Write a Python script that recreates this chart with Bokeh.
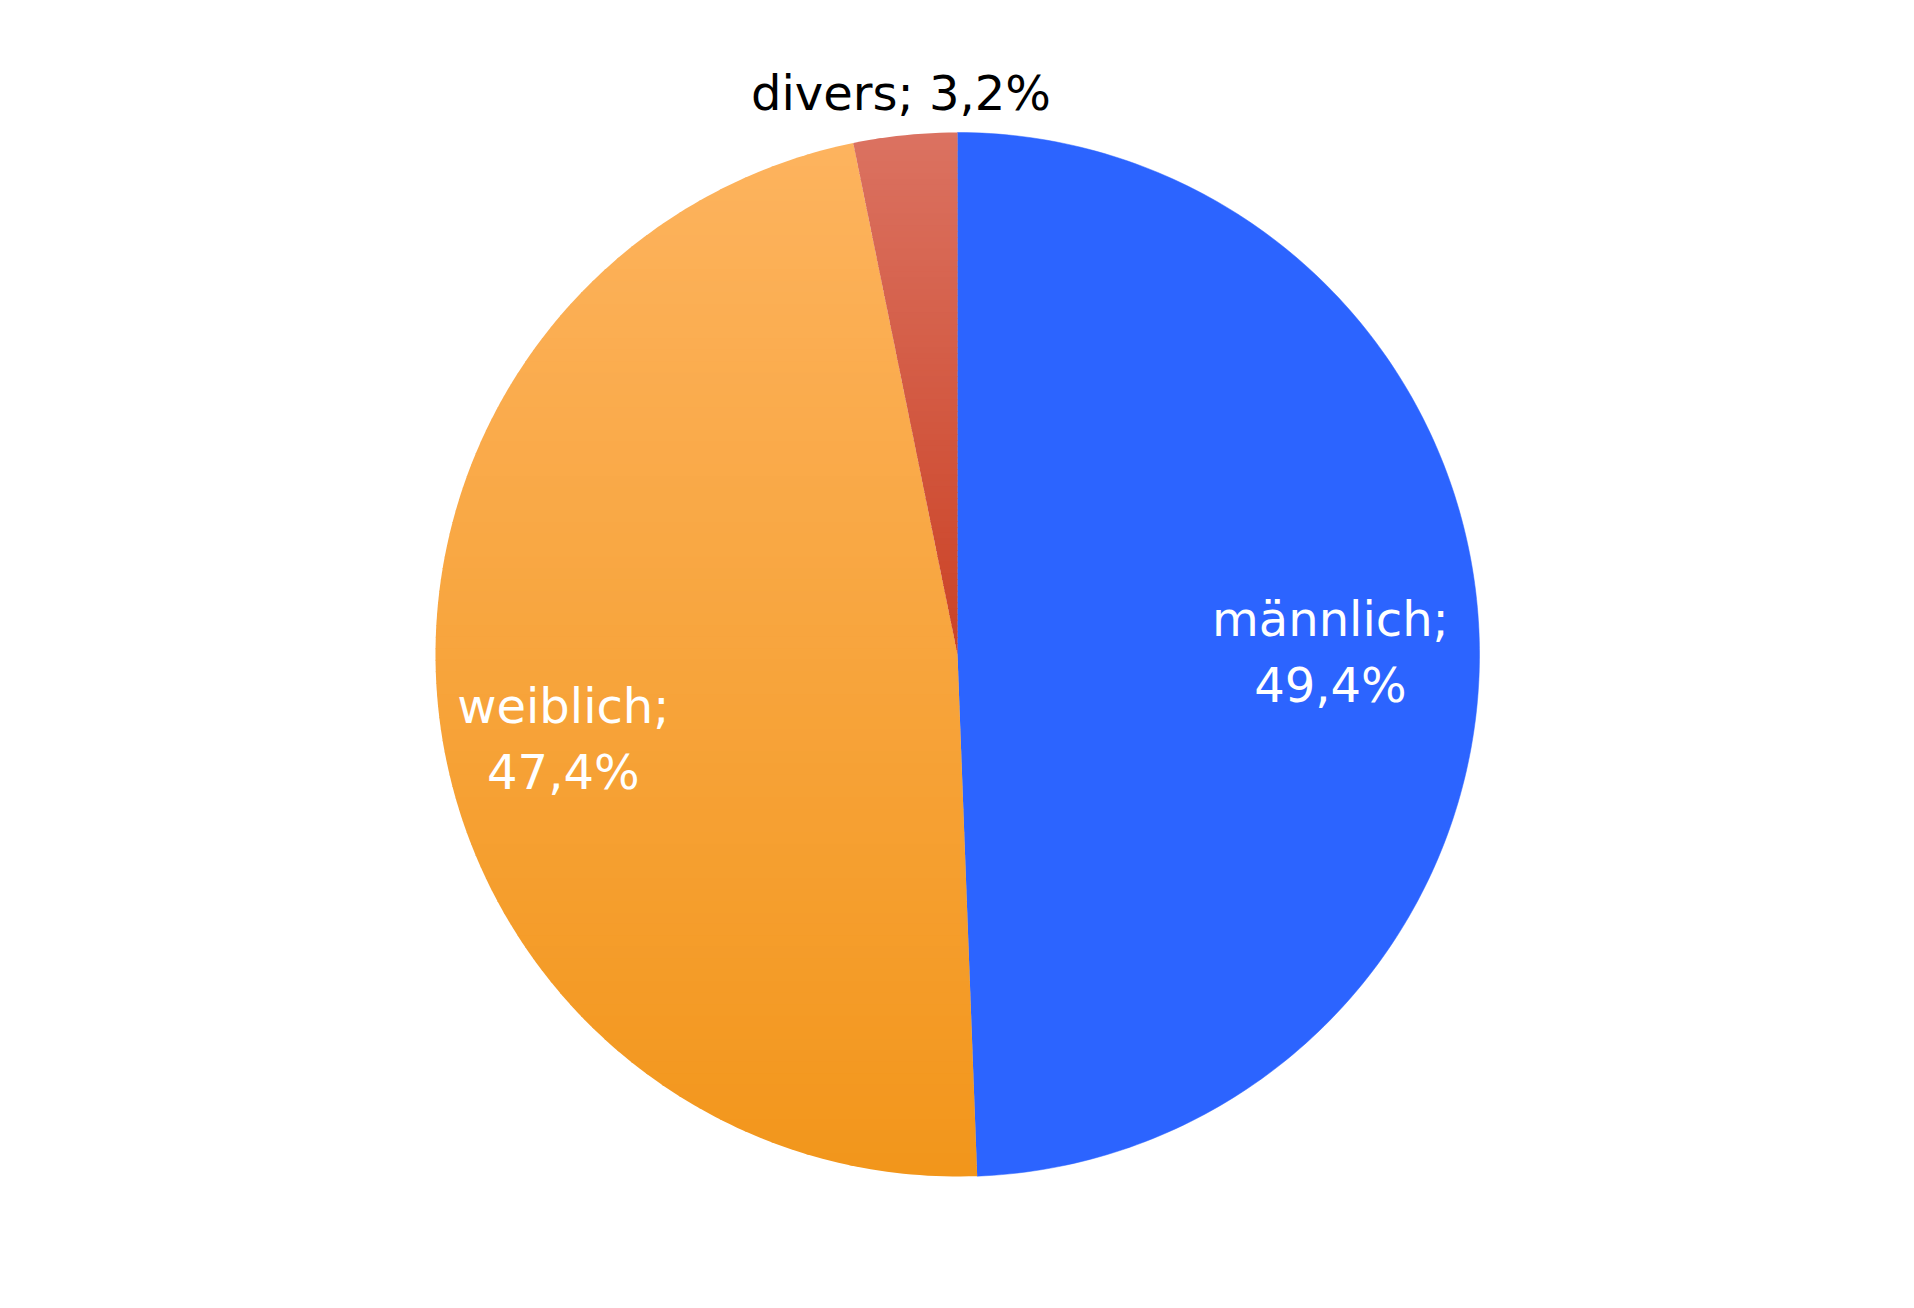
import math
from bokeh.plotting import figure
from bokeh.models import Range1d
from bokeh.core.properties import value
from bokeh.embed import file_html
from bokeh.resources import INLINE

# ---- data ----
categories = ["männlich", "weiblich", "divers"]
shares = [49.4, 47.4, 3.2]
share_texts = ["49,4%", "47,4%", "3,2%"]

# ---- style ----
top_colors = ["#2C64FF", "#FDB35E", "#DB7261"]
bottom_colors = ["#2C64FF", "#F2961B", "#CB4225"]
label_colors = ["white", "white", "black"]
label_two_lines = [True, True, False]
label_radius = [373, 397, 564]
label_dy = [-5, -37, 0]

W, H = 1898, 1292
CX, CY = 957, 654  # pie centre measured from the top-left of the figure
R = 522

p = figure(width=W, height=H, output_backend="svg", toolbar_location=None,
           x_range=Range1d(-CX, W - CX), y_range=Range1d(-(H - CY), CY),
           min_border=0, outline_line_color=None)
p.axis.visible = False
p.grid.visible = False
p.background_fill_color = "white"
p.border_fill_color = "white"


def hex2rgb(h):
    h = h.lstrip("#")
    return tuple(int(h[i:i + 2], 16) for i in (0, 2, 4))


def lerp_color(c1, c2, t):
    a, b = hex2rgb(c1), hex2rgb(c2)
    return "#%02x%02x%02x" % tuple(int(round(a[i] + (b[i] - a[i]) * t)) for i in range(3))


def clip_y(poly, y0, y1):
    def clip(pts, inside, inter):
        out = []
        n = len(pts)
        for i in range(n):
            cur, prev = pts[i], pts[i - 1]
            if inside(cur):
                if not inside(prev):
                    out.append(inter(prev, cur))
                out.append(cur)
            elif inside(prev):
                out.append(inter(prev, cur))
        return out

    def ix(yv):
        def f(a, b):
            t = (yv - a[1]) / (b[1] - a[1])
            return (a[0] + t * (b[0] - a[0]), yv)
        return f

    pts = clip(poly, lambda q: q[1] >= y0, ix(y0))
    if not pts:
        return pts
    return clip(pts, lambda q: q[1] <= y1, ix(y1))


FONT = value("DejaVu Sans")
FS = "48px"

total = sum(shares)
cum = 0.0
for i, s in enumerate(shares):
    f0, f1 = cum / total, (cum + s) / total
    cum += s
    n = max(8, int(400 * (f1 - f0)))
    poly = [(0.0, 0.0)]
    for k in range(n + 1):
        f = f0 + (f1 - f0) * k / n
        a = 2 * math.pi * f
        poly.append((R * math.sin(a), R * math.cos(a)))
    ys = [q[1] for q in poly]
    ymin, ymax = min(ys), max(ys)
    if top_colors[i] == bottom_colors[i]:
        p.patch([q[0] for q in poly], [q[1] for q in poly], fill_color=top_colors[i],
                line_color=top_colors[i], line_width=0.5)
    else:
        nb = 90
        xs_l, ys_l, cols = [], [], []
        for b in range(nb):
            y_hi = ymax - (ymax - ymin) * b / nb
            y_lo = ymax - (ymax - ymin) * (b + 1) / nb - 1.0
            part = clip_y(poly, y_lo, y_hi)
            if len(part) < 3:
                continue
            xs_l.append([q[0] for q in part])
            ys_l.append([q[1] for q in part])
            cols.append(lerp_color(top_colors[i], bottom_colors[i], (b + 0.5) / nb))
        p.patches(xs_l, ys_l, fill_color=cols, line_color=None)

    mid = 2 * math.pi * (f0 + f1) / 2
    lx = label_radius[i] * math.sin(mid)
    ly = label_radius[i] * math.cos(mid) + label_dy[i]
    if label_two_lines[i]:
        lines = [categories[i] + ";", share_texts[i]]
        offsets = [-33, 33]
    else:
        lines = [categories[i] + "; " + share_texts[i]]
        offsets = [0]
    for t, off in zip(lines, offsets):
        p.text(x=[lx], y=[ly], text=[t], y_offset=off, text_color=label_colors[i],
               text_font=FONT, text_font_size=FS,
               text_align="center", text_baseline="middle")

open("out.html", "w").write(file_html(p, INLINE))
